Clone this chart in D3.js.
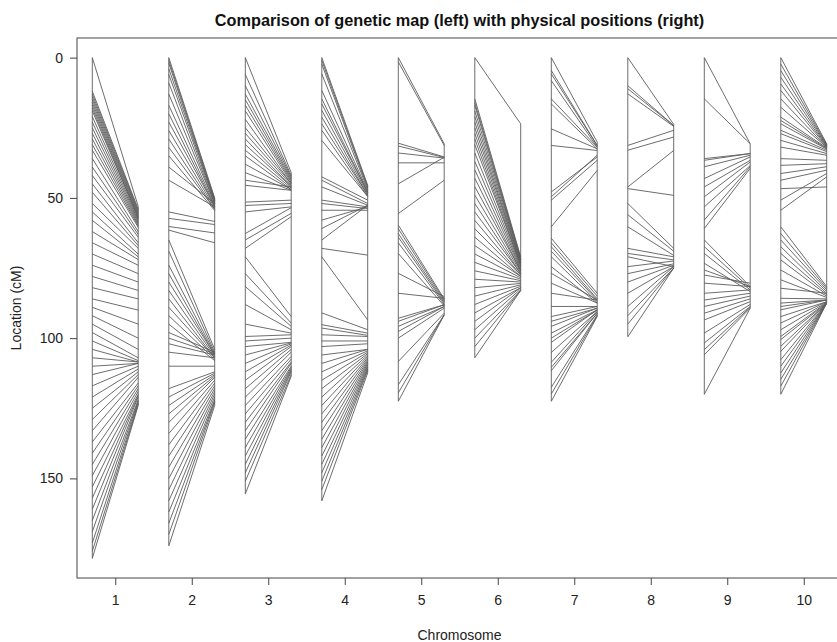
<!DOCTYPE html>
<html>
<head>
<meta charset="utf-8">
<script src="https://cdn.jsdelivr.net/npm/d3@7"></script>
<style>
  body { margin: 0; background: #fff; }
  svg { display: block; font-family: "Liberation Sans", Arial, Helvetica, sans-serif; }
</style>
</head>
<body>
<svg id="chart" width="837" height="642"></svg>
<script>
// markers per chromosome: [genetic position (cM), physical position (scaled)]
const chr1 = [[0,53],[12,54],[13,54.5],[14,55],[15,55.5],[16,56],[17,56.5],[18,57],[19,57],[21,57.5],[23,58],[25,58.5],[27,59],[29,59.5],[31,60],[33,60.5],[36,62],[39,63],[42,64],[45,66],[48,67],[52,68],[55,70],[58,71],[62,72],[66,74],[70,77],[74,80],[78,83],[82,86],[86,90],[89,95],[92,100],[95,104],[98,107],[101,108],[104,108.5],[107,108.5],[110,109],[113,109],[117,110],[121,111],[125,112],[129,113],[133,114],[137,116],[141,117],[145,118],[149,119],[153,120],[157,120.5],[161,121],[165,122],[169,122.5],[173,123],[176,123.5],[178.5,124]];
const chr2 = [[0,50],[1,50.5],[2,51],[4,51],[6,51.5],[9,52],[13,52],[17,52.5],[20,53],[23,53],[26,53.5],[29,54],[32,54],[35,54.5],[39,52],[43.7,53.2],[55,58.4],[57.3,59.5],[60.2,62.5],[61.5,66],[65,104],[69,105],[74,105.5],[77,106],[80,106],[83,106.5],[86,107],[89,107],[92,107.5],[95,108],[98,105],[100,105.5],[102,106],[105,107],[110,110],[118,112],[121,112.5],[124,113],[127,113.5],[130,114],[134,115],[138,116],[142,117],[146,118],[150,119],[154,120],[158,121],[162,122],[166,122.5],[170,123],[174,124]];
const chr3 = [[0,41],[6,42],[10,42.5],[13,43],[15,43.5],[17,44],[19,44.5],[22,45],[25,45],[27,45.5],[29,46],[31,46],[33,46.5],[35,47],[38,47],[41,47.3],[43.7,46.1],[45.5,47.3],[51.5,50.8],[52.7,52],[55,53.2],[62.7,53.5],[65,55.5],[68,56.7],[71,92.3],[77,94.6],[81.6,95.8],[88,97],[95,98.2],[99.4,98.8],[101,100],[103,101.5],[106,101.7],[109,102],[112,102.5],[115,103],[118,104],[121,105],[124,106.5],[127,107.5],[130,108.5],[133,109],[136,110],[139,110.5],[142,111],[145,111.5],[148,112],[151,113],[155.5,113.6]];
const chr4 = [[0,45.5],[1,46],[2.3,46.5],[5.8,47],[11.7,47.5],[14.7,48],[16.5,48],[18.8,48.5],[21.2,49],[23.6,49],[25.9,49.5],[29.5,49.5],[42.5,50.8],[43.7,52],[46.1,52.6],[50.8,53.2],[52,53.8],[54.4,54.4],[57.9,53.2],[60.9,52.6],[65,52.6],[68,70.4],[71,93.5],[91,97],[95.2,98.2],[96.4,99],[98.8,99.4],[101,101],[103,102],[106,104],[109,104],[112,104.5],[115,105],[118,105.5],[121,106],[124,106.5],[127,107],[130,107.5],[133,108],[136,108.5],[139,109],[142,109.5],[145,110],[148,110.5],[151,111],[154,111.5],[158,112.4]];
const chr5 = [[0,30.7],[1.5,31.3],[30.5,35.4],[31.5,35.6],[34,35.8],[37.5,37.5],[45,35.5],[55.6,43.7],[59.7,86],[61,86.5],[62.7,87],[64,87.5],[66,88],[69.8,88.5],[76.9,85.2],[84,85.8],[92.9,88.1],[94,88.1],[95.8,88.7],[97.6,88.7],[100,89.3],[108.3,91.1],[116.6,91.7],[119.5,91.7],[122.5,91.7]];
const chr6 = [[0,23.6],[14.7,71],[16,71.5],[17,72],[19,72],[21,72.5],[23,73],[25,73],[27,73.5],[29,74],[31,74],[34,74.5],[37,75],[40,75.5],[43,76],[46,76],[49,76.5],[52,77],[55,77],[58,77.5],[61,77.5],[64,78],[67,78],[70,78.5],[73,79],[76,79.5],[79,80],[82,80.5],[85,81],[88,81.5],[91,82],[94,82],[97,82.5],[100,83],[103,83],[107,83]];
const chr7 = [[0,30.1],[4.6,31.3],[5.8,31.3],[8.2,31.9],[14.7,31.9],[16.5,32.5],[25.4,32.5],[31.3,33.1],[47.9,35.4],[49.6,34.8],[50.8,36.6],[60.3,40.2],[64.4,84],[66,85],[67.4,86],[69,86.4],[71,87],[74.5,87.5],[76.9,86.4],[80.4,87.5],[84,86.4],[88.7,88.7],[92.3,88.7],[94,89.3],[95.8,89.3],[98.2,89.9],[100,90],[101.5,89.9],[105.1,90.5],[108.6,90.5],[110.4,91.1],[111.6,91.1],[117.5,91.7],[119.9,92],[122.5,92.3]];
const chr8 = [[0,23.8],[10,24.2],[11.1,24.2],[12.9,24.5],[31.3,25.9],[33,28.3],[46.1,33.1],[46.7,49.1],[52,68],[56,69],[60.3,70.5],[68,71],[69.8,72.1],[71,74.5],[74.5,72.5],[77,73.5],[80,74],[84,74.5],[88.7,74.5],[92,75],[95,75],[99.5,75]];
const chr9 = [[0,30.7],[14.7,30.7],[36,34.2],[36.6,34.2],[38.9,34.8],[43.1,35.4],[46.1,36.6],[49.6,37.2],[53.2,38.5],[57.9,38.9],[60.9,39.5],[65,81.6],[67.4,82.2],[69.8,82.8],[73.3,83.4],[75.7,81.6],[77.5,80.4],[80.4,81.6],[84,82.8],[86.4,84],[88.7,85],[91.1,86],[93.5,87],[98.2,88],[101.7,88.7],[104.1,89],[105.9,89.3],[120,89.3]];
const chr10 = [[0,30.7],[2.3,31],[4.6,31.2],[7,31.4],[9.4,31.6],[11.7,31.8],[14.7,32],[17.7,32],[21.2,32.2],[22.4,32.4],[23.6,32.6],[25.9,33],[27.1,33.5],[29.5,34.2],[31.9,34.8],[36,36.6],[38.4,37.8],[41.3,38.9],[43.7,40.1],[46.7,46.1],[50.8,41.3],[54.4,42.5],[60.3,81.6],[62.7,82.2],[65,82.8],[67.4,83.4],[69.8,84],[72.1,84.5],[75.7,85],[79.2,85.5],[82.2,84],[85.8,86],[87.5,86.4],[88.7,86.4],[89.9,86.4],[92.3,87],[94.6,87],[97,87.2],[99.4,87.3],[100.5,87.5],[102.9,87.5],[104.7,87.5],[107.7,87.5],[110,87.5],[112.4,87.5],[114.7,87.5],[117.1,87.5],[120,87.5]];

const chromosomes = ["1","2","3","4","5","6","7","8","9","10"];
const markers = [chr1, chr2, chr3, chr4, chr5, chr6, chr7, chr8, chr9, chr10];
const yTickValues = [0, 50, 100, 150];

const svg = d3.select("#chart");
const box = { left: 77, right: 842, top: 38, bottom: 578 };
const halfWidth = 0.3;
const lineColor = "#5c5c5c";
const axisFont = 14;

const x = d3.scaleLinear()
    .domain([0.5, chromosomes.length + 0.5])
    .range([box.left, box.right]);

const y = d3.scaleLinear()
    .domain([-7, 185.5])
    .range([box.top, box.bottom]);

// one group per chromosome
const chrG = svg.append("g")
    .attr("class", "plot-area")
    .selectAll("g")
    .data(markers)
    .join("g");

chrG.each(function (d, i) {
    const g = d3.select(this);
    const c = i + 1;
    const xl = x(c - halfWidth);
    const xr = x(c + halfWidth);
    const gExt = d3.extent(d, m => m[0]);
    const pExt = d3.extent(d, m => m[1]);

    g.append("line")
        .attr("x1", xl).attr("x2", xl)
        .attr("y1", y(gExt[0])).attr("y2", y(gExt[1]))
        .attr("stroke", lineColor).attr("stroke-width", 0.9);

    g.append("line")
        .attr("x1", xr).attr("x2", xr)
        .attr("y1", y(pExt[0])).attr("y2", y(pExt[1]))
        .attr("stroke", lineColor).attr("stroke-width", 0.9);

    g.selectAll("line.marker")
        .data(d)
        .join("line")
        .attr("class", "marker")
        .attr("x1", xl)
        .attr("x2", xr)
        .attr("y1", m => y(m[0]))
        .attr("y2", m => y(m[1]))
        .attr("stroke", lineColor)
        .attr("stroke-width", 0.9);
});

// frame
svg.append("rect")
    .attr("x", box.left)
    .attr("y", box.top)
    .attr("width", box.right - box.left)
    .attr("height", box.bottom - box.top)
    .attr("fill", "none")
    .attr("stroke", "#444")
    .attr("stroke-width", 1);

const xAxis = g => g
    .attr("transform", `translate(0,${box.bottom})`)
    .call(d3.axisBottom(x)
        .tickValues(d3.range(1, chromosomes.length + 1))
        .tickFormat(i => chromosomes[i - 1])
        .tickSize(7)
        .tickPadding(10))
    .call(g => g.select(".domain").remove());

const yAxis = g => g
    .attr("transform", `translate(${box.left},0)`)
    .call(d3.axisLeft(y)
        .tickValues(yTickValues)
        .tickSize(7)
        .tickPadding(7))
    .call(g => g.select(".domain").remove());

svg.append("g").call(xAxis);
svg.append("g").call(yAxis);

svg.selectAll(".tick line").attr("stroke", "#444");
svg.selectAll(".tick text")
    .attr("font-size", axisFont)
    .attr("fill", "#222")
    .attr("font-family", "Liberation Sans, Arial, sans-serif");

// titles
svg.append("text")
    .attr("x", (box.left + box.right) / 2)
    .attr("y", 26)
    .attr("text-anchor", "middle")
    .attr("font-size", 16.3)
    .attr("font-weight", "bold")
    .attr("fill", "#111")
    .text("Comparison of genetic map (left) with physical positions (right)");

svg.append("text")
    .attr("x", (box.left + box.right) / 2)
    .attr("y", 640)
    .attr("text-anchor", "middle")
    .attr("font-size", axisFont)
    .attr("fill", "#222")
    .text("Chromosome");

svg.append("text")
    .attr("transform", `translate(21,${(box.top + box.bottom) / 2}) rotate(-90)`)
    .attr("text-anchor", "middle")
    .attr("font-size", axisFont)
    .attr("fill", "#222")
    .text("Location (cM)");
</script>
</body>
</html>
